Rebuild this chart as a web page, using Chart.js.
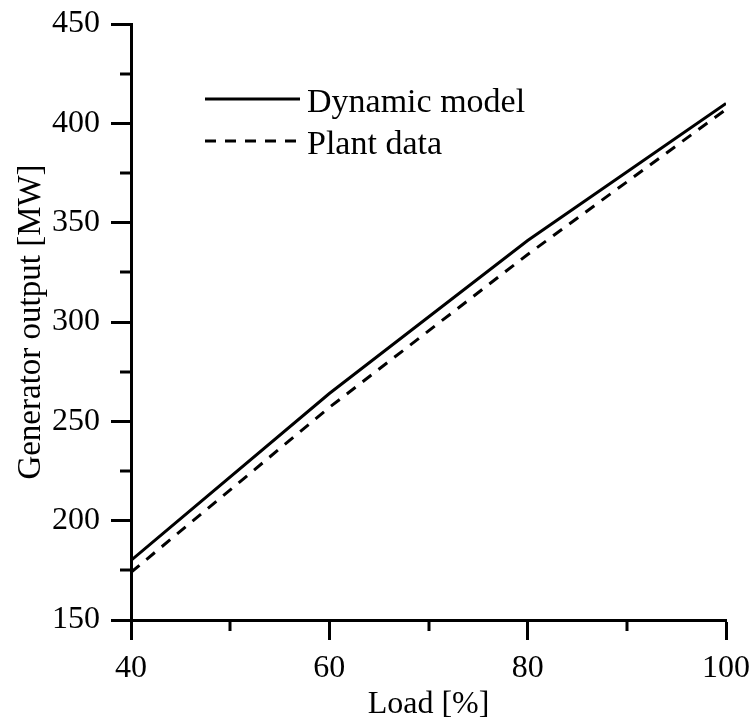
<!DOCTYPE html>
<html>
<head>
<meta charset="utf-8">
<script src="https://cdn.jsdelivr.net/npm/chart.js@4"></script>
<style>
html, body { margin: 0; padding: 0; background: #fff; }
#wrap { width: 756px; height: 725px; }
</style>
</head>
<body>
<div id="wrap"><canvas id="chart" width="756" height="725"></canvas></div>
<script>
// values
var loadPct = [40, 60, 80, 100];
var dynamicModel = [180, 264, 341, 410];
var plantData = [174, 257, 334, 407];
var seriesLabels = ['Dynamic model', 'Plant data'];
var xMinorTicks = [50, 70, 90];
var yMinorTicks = [175, 225, 275, 325, 375, 425];

var serif = "'Liberation Serif', 'Times New Roman', serif";

function points(ys) {
  return loadPct.map(function (x, i) { return { x: x, y: ys[i] }; });
}

// short ticks between the labelled ones
var minorTicks = {
  id: 'minorTicks',
  afterDraw: function (chart) {
    var ctx = chart.ctx, xs = chart.scales.x, ys = chart.scales.y;
    var area = chart.chartArea;
    ctx.save();
    ctx.strokeStyle = '#000';
    ctx.lineWidth = 3;
    xMinorTicks.forEach(function (v) {
      var px = Math.round(xs.getPixelForValue(v));
      ctx.beginPath();
      ctx.moveTo(px, area.bottom);
      ctx.lineTo(px, area.bottom + 11);
      ctx.stroke();
    });
    yMinorTicks.forEach(function (v) {
      var py = Math.round(ys.getPixelForValue(v));
      ctx.beginPath();
      ctx.moveTo(area.left, py);
      ctx.lineTo(area.left - 11, py);
      ctx.stroke();
    });
    ctx.restore();
  }
};

// legend inside the plot, upper left
var innerLegend = {
  id: 'innerLegend',
  afterDraw: function (chart) {
    var ctx = chart.ctx;
    ctx.save();
    ctx.font = '34px ' + serif;
    ctx.fillStyle = '#000';
    ctx.textBaseline = 'alphabetic';
    chart.data.datasets.forEach(function (ds, i) {
      var y = 99 + i * 42;
      ctx.strokeStyle = ds.borderColor;
      ctx.lineWidth = ds.borderWidth;
      ctx.setLineDash(ds.borderDash || []);
      ctx.beginPath();
      ctx.moveTo(205, y);
      ctx.lineTo(300, y);
      ctx.stroke();
      ctx.setLineDash([]);
      ctx.fillText(ds.label, 307, y + 13);
    });
    ctx.restore();
  }
};

var chart = new Chart(document.getElementById('chart'), {
  type: 'line',
  data: {
    datasets: [
      {
        label: seriesLabels[0],
        data: points(dynamicModel),
        borderColor: '#000',
        borderWidth: 3,
        pointRadius: 0,
        fill: false,
        tension: 0
      },
      {
        label: seriesLabels[1],
        data: points(plantData),
        borderColor: '#000',
        borderWidth: 3,
        borderDash: [11, 9],
        pointRadius: 0,
        fill: false,
        tension: 0
      }
    ]
  },
  options: {
    responsive: false,
    animation: false,
    devicePixelRatio: 1,
    layout: { padding: { top: 24, right: 30, left: 0, bottom: 0 } },
    plugins: {
      legend: { display: false },
      tooltip: { enabled: false }
    },
    scales: {
      x: {
        type: 'linear',
        min: 40,
        max: 100,
        afterFit: function (s) {
          s.height = 105;
          s.paddingLeft = 0;
          s.paddingRight = 0;
        },
        border: { display: true, width: 3, color: '#000' },
        grid: { drawOnChartArea: false, drawTicks: true, tickLength: 20, tickWidth: 3, tickColor: '#000' },
        ticks: { stepSize: 20, padding: 9, color: '#000', maxRotation: 0, font: { family: serif, size: 32 } },
        title: { display: true, text: 'Load [%]', color: '#000', padding: { top: 0, bottom: 1 }, font: { family: serif, size: 32 } }
      },
      y: {
        min: 150,
        max: 450,
        afterFit: function (s) {
          s.width = 131;
          s.paddingTop = 0;
          s.paddingBottom = 0;
        },
        border: { display: true, width: 3, color: '#000' },
        grid: { drawOnChartArea: false, drawTicks: true, tickLength: 20, tickWidth: 3, tickColor: '#000' },
        ticks: { stepSize: 50, padding: 11, color: '#000', font: { family: serif, size: 32 } },
        title: { display: true, text: 'Generator output [MW]', color: '#000', padding: { top: 12, bottom: 0 }, font: { family: serif, size: 33 } }
      }
    }
  },
  plugins: [minorTicks, innerLegend]
});
</script>
</body>
</html>
